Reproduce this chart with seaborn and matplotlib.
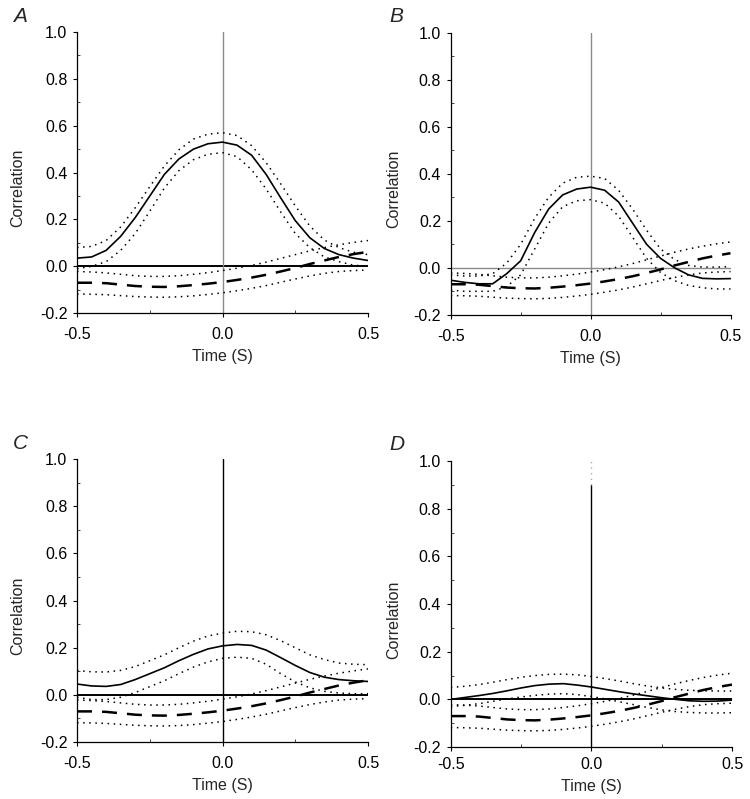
import matplotlib
matplotlib.use("Agg")
import matplotlib.pyplot as plt
import seaborn as sns
from matplotlib.ticker import MultipleLocator

sns.set_style("ticks")
plt.rcParams['font.family'] = ['Liberation Sans', 'DejaVu Sans']

# time lags (s)
time = [-0.50, -0.45, -0.40, -0.35, -0.30, -0.25, -0.20, -0.15, -0.10, -0.05, 0.00,
        0.05, 0.10, 0.15, 0.20, 0.25, 0.30, 0.35, 0.40, 0.45, 0.50]

# control (dashed) correlation and its bounds, same in every panel
ctrl = [-0.070, -0.070, -0.072, -0.078, -0.084, -0.087, -0.088, -0.085, -0.080, -0.074, -0.067,
        -0.058, -0.048, -0.036, -0.022, -0.007, 0.010, 0.025, 0.040, 0.052, 0.062]
ctrl_hi = [-0.022, -0.024, -0.028, -0.034, -0.040, -0.043, -0.043, -0.040, -0.034, -0.027, -0.018,
           -0.008, 0.004, 0.018, 0.034, 0.050, 0.066, 0.080, 0.092, 0.102, 0.110]
ctrl_lo = [-0.118, -0.119, -0.121, -0.125, -0.129, -0.131, -0.132, -0.130, -0.126, -0.120, -0.113,
           -0.104, -0.094, -0.082, -0.068, -0.054, -0.041, -0.030, -0.022, -0.018, -0.016]

# panel A
a_mean = [0.035, 0.040, 0.068, 0.128, 0.208, 0.300, 0.392, 0.458, 0.500, 0.523, 0.530,
          0.517, 0.474, 0.392, 0.292, 0.195, 0.122, 0.076, 0.050, 0.035, 0.025]
a_hi = [0.080, 0.085, 0.110, 0.168, 0.250, 0.340, 0.428, 0.497, 0.543, 0.564, 0.570,
        0.558, 0.515, 0.442, 0.352, 0.258, 0.172, 0.112, 0.080, 0.060, 0.050]
a_lo = [-0.010, 0.000, 0.020, 0.068, 0.140, 0.235, 0.334, 0.408, 0.455, 0.478, 0.485,
        0.468, 0.412, 0.330, 0.232, 0.140, 0.080, 0.040, 0.020, 0.005, 0.000]

# panel B
b_mean = [-0.053, -0.062, -0.068, -0.068, -0.025, 0.030, 0.150, 0.250, 0.310, 0.335, 0.343,
          0.330, 0.280, 0.190, 0.100, 0.040, 0.000, -0.030, -0.045, -0.047, -0.046]
b_hi = [-0.030, -0.035, -0.035, -0.025, 0.020, 0.100, 0.210, 0.300, 0.360, 0.385, 0.390,
        0.380, 0.330, 0.250, 0.160, 0.080, 0.035, 0.010, 0.003, 0.003, 0.005]
b_lo = [-0.095, -0.100, -0.100, -0.100, -0.080, -0.030, 0.080, 0.190, 0.260, 0.285, 0.290,
        0.275, 0.220, 0.130, 0.040, -0.020, -0.055, -0.075, -0.085, -0.090, -0.090]

# panel C
c_mean = [0.046, 0.038, 0.036, 0.044, 0.065, 0.090, 0.115, 0.145, 0.172, 0.195, 0.208,
          0.214, 0.210, 0.190, 0.158, 0.125, 0.095, 0.075, 0.065, 0.060, 0.057]
c_hi = [0.103, 0.098, 0.097, 0.104, 0.120, 0.145, 0.170, 0.200, 0.228, 0.250, 0.262,
        0.270, 0.268, 0.255, 0.230, 0.200, 0.170, 0.150, 0.135, 0.130, 0.128]
c_lo = [-0.010, -0.020, -0.020, -0.010, 0.010, 0.035, 0.060, 0.090, 0.118, 0.140, 0.155,
        0.160, 0.155, 0.130, 0.090, 0.055, 0.030, 0.015, 0.008, 0.005, 0.005]

# panel D
d_mean = [0.000, 0.008, 0.016, 0.025, 0.036, 0.048, 0.058, 0.064, 0.066, 0.060, 0.052,
          0.042, 0.032, 0.023, 0.015, 0.007, 0.000, -0.006, -0.008, -0.007, -0.003]
d_hi = [0.050, 0.055, 0.062, 0.072, 0.083, 0.093, 0.100, 0.105, 0.106, 0.103, 0.096,
        0.087, 0.077, 0.066, 0.056, 0.048, 0.042, 0.038, 0.036, 0.035, 0.035]
d_lo = [-0.030, -0.025, -0.018, -0.008, 0.002, 0.010, 0.017, 0.022, 0.024, 0.020, 0.012,
        0.002, -0.010, -0.022, -0.034, -0.044, -0.051, -0.055, -0.057, -0.057, -0.056]

panels = [
    ("A", a_mean, a_hi, a_lo, "#8a8a8a", "black", [0.1027, 0.608, 0.388, 0.352], 7),
    ("B", b_mean, b_hi, b_lo, "#8a8a8a", "#8a8a8a", [0.601, 0.606, 0.373, 0.353], 7),
    ("C", c_mean, c_hi, c_lo, "black", "black", [0.1027, 0.0713, 0.388, 0.354], 7),
    ("D", d_mean, d_hi, d_lo, "black", "black", [0.601, 0.065, 0.375, 0.358], 4),
]

fig = plt.figure(figsize=(7.5, 7.99), dpi=100)

for letter, mean, hi, lo, vcol, hcol, rect, xpad in panels:
    ax = fig.add_axes(rect)
    ax.set_facecolor("white")

    # zero lines
    ax.axhline(0, color=hcol, lw=1.4 if hcol == "black" else 1.0, zorder=1)
    if letter == "D":
        ax.axvline(0, ymax=0.917, color=vcol, lw=1.0, zorder=1)
        ax.axvline(0, ymin=0.917, color="#aaaaaa", lw=1.0, ls=(0, (1, 3)), zorder=1)
    else:
        ax.axvline(0, color=vcol, lw=1.0, zorder=1)

    # control curve
    sns.lineplot(x=time, y=ctrl, ax=ax, color="black", lw=1.8, ls=(0, (6, 4)))
    sns.lineplot(x=time, y=ctrl_hi, ax=ax, color="black", lw=1.1, ls=(0, (1, 3)))
    sns.lineplot(x=time, y=ctrl_lo, ax=ax, color="black", lw=1.1, ls=(0, (1, 3)))

    # test curve
    sns.lineplot(x=time, y=mean, ax=ax, color="black", lw=1.2)
    sns.lineplot(x=time, y=hi, ax=ax, color="black", lw=1.1, ls=(0, (1, 3)))
    sns.lineplot(x=time, y=lo, ax=ax, color="black", lw=1.1, ls=(0, (1, 3)))

    ax.set_xlim(-0.5, 0.5)
    ax.set_ylim(-0.2, 1.0)
    ax.set_xticks([-0.5, 0.0, 0.5])
    ax.set_xticklabels(["-0.5", "0.0", "0.5"])
    ax.set_yticks([-0.2, 0.0, 0.2, 0.4, 0.6, 0.8, 1.0])
    ax.set_yticklabels(["-0.2", "0.0", "0.2", "0.4", "0.6", "0.8", "1.0"])
    ax.xaxis.set_minor_locator(MultipleLocator(0.25))
    ax.yaxis.set_minor_locator(MultipleLocator(0.1))
    ax.tick_params(which="major", direction="out", length=3, width=0.8,
                   labelsize=11.5, colors="black")
    ax.tick_params(axis="x", which="major", pad=xpad)
    ax.tick_params(axis="y", which="major", pad=4)
    ax.tick_params(which="minor", direction="in", length=2, width=0.6)
    ax.set_xlabel("Time (S)", fontsize=11.5, labelpad=5)
    ax.set_ylabel("Correlation", fontsize=11.5)
    ax.yaxis.set_label_coords(-0.177, 0.445)
    sns.despine(ax=ax)
    for s in ["left", "bottom"]:
        ax.spines[s].set_color("black")
        ax.spines[s].set_linewidth(0.9)

    ax.text(-0.22, 1.09, letter, transform=ax.transAxes, fontsize=15,
            style="italic", ha="left", va="top")

fig.savefig("out.png", dpi=100, facecolor="white")
